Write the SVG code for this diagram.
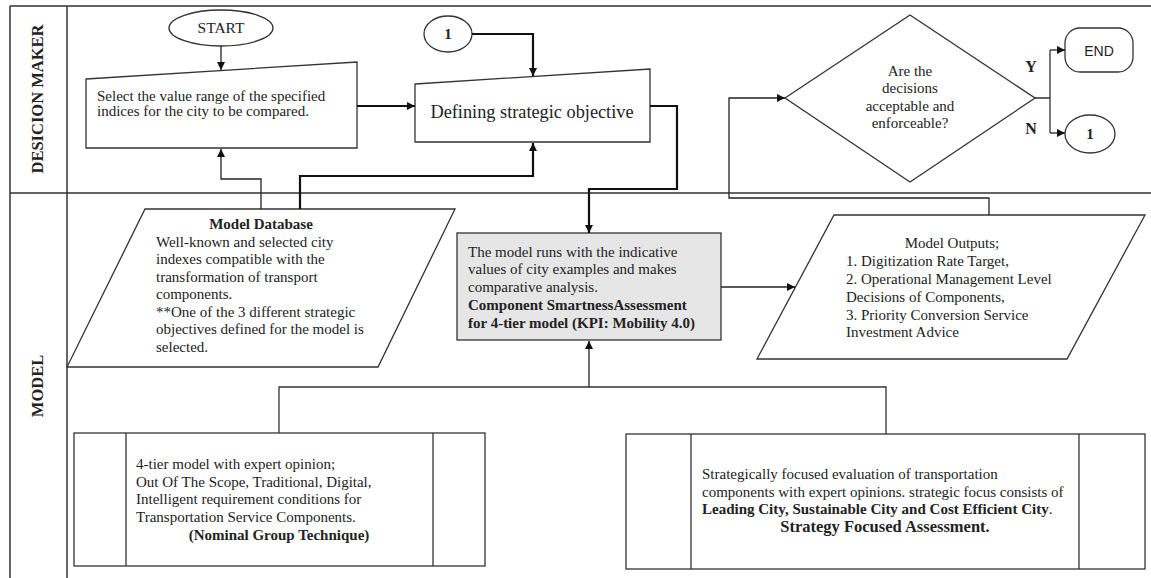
<svg xmlns="http://www.w3.org/2000/svg" width="1151" height="578" viewBox="0 0 1151 578">
<style>
.t{font-family:"Liberation Serif","Times New Roman",serif;font-size:15px;fill:#222}
.b{font-weight:bold}
.c{text-anchor:middle}
.shape{fill:#fff;stroke:#333;stroke-width:1.3}
.lane{fill:none;stroke:#333;stroke-width:1.5}
.thin{fill:none;stroke:#222;stroke-width:1.3;marker-end:url(#ah)}
.thick{fill:none;stroke:#111;stroke-width:2.2;marker-end:url(#ah)}
.plain{fill:none;stroke:#333;stroke-width:1.3}
</style>
<defs>
<marker id="ah" viewBox="0 0 10 10" refX="10" refY="5" markerWidth="9" markerHeight="8" markerUnits="userSpaceOnUse" orient="auto">
<path d="M0,0 L10,5 L0,10 z" fill="#111"/>
</marker>
</defs>
<rect width="1151" height="578" fill="#fff"/>
<g id="lanes">
<path class="lane" d="M10,6 H1151 M10,193 H1151 M10,6 V578 M67,6 V578"/>
<text class="t b c" style="font-size:16.5px" transform="translate(43,99) rotate(-90)">DESICION MAKER</text>
<text class="t b c" style="font-size:16.5px" transform="translate(43,386) rotate(-90)">MODEL</text>
</g>
<g id="start">
<ellipse class="shape" cx="221" cy="28" rx="52" ry="18"/>
<text class="t c" style="font-size:15.5px" x="221" y="33">START</text>
</g>
<g id="select">
<path class="shape" d="M86,79 L357,62 L357,148 L86,148 Z"/>
<text class="t" x="97" y="101">Select the value range of the specified</text>
<text class="t" x="97" y="116">indices for the city to be compared.</text>
</g>
<g id="conn1top">
<ellipse class="shape" cx="448" cy="34" rx="24" ry="18"/>
<text class="t b c" x="448" y="39">1</text>
</g>
<g id="defining">
<path class="shape" d="M415,84 L650,69 L650,142 L415,142 Z"/>
<text class="t c" style="font-size:18.3px" x="532" y="118">Defining strategic objective</text>
</g>
<g id="decision">
<path class="shape" d="M785,98 L910,15 L1035,98 L910,182 Z"/>
<text class="t c" x="910" y="76">Are the</text>
<text class="t c" x="910" y="93">decisions</text>
<text class="t c" x="910" y="111">acceptable and</text>
<text class="t c" x="910" y="128">enforceable?</text>
<text class="t b c" style="font-size:16px" x="1031" y="72">Y</text>
<text class="t b c" style="font-size:16px" x="1031" y="134">N</text>
</g>
<g id="end">
<rect class="shape" x="1065" y="28" width="68" height="44" rx="15"/>
<text x="1099" y="56" style="font-family:'Liberation Sans',Arial,sans-serif;font-size:14px;fill:#222" text-anchor="middle">END</text>
</g>
<g id="conn1bottom">
<ellipse class="shape" cx="1090" cy="134" rx="25" ry="19"/>
<text class="t b c" x="1090" y="139">1</text>
</g>
<g id="database">
<path class="shape" d="M145,209 L455,209 L378,367 L67,367 Z"/>
<text class="t b c" x="261" y="229">Model Database</text>
<text class="t" x="156" y="247">Well-known and selected city</text>
<text class="t" x="156" y="264">indexes compatible with the</text>
<text class="t" x="156" y="282">transformation of transport</text>
<text class="t" x="156" y="299">components.</text>
<text class="t" x="156" y="317">**One of the 3 different strategic</text>
<text class="t" x="156" y="334">objectives defined for the model is</text>
<text class="t" x="156" y="352">selected.</text>
</g>
<g id="modelrun">
<rect x="457" y="233" width="264" height="107" fill="#e6e6e6" stroke="#333" stroke-width="1.3"/>
<text class="t" x="468" y="257">The model runs with the indicative</text>
<text class="t" x="468" y="274">values of city examples and makes</text>
<text class="t" x="468" y="292">comparative analysis.</text>
<text class="t b" x="468" y="310">Component SmartnessAssessment</text>
<text class="t b" x="468" y="328">for 4-tier model (KPI: Mobility 4.0)</text>
</g>
<g id="outputs">
<path class="shape" d="M834,215 L1145,215 L1067,359 L757,359 Z"/>
<text class="t c" x="952" y="248">Model Outputs;</text>
<text class="t" x="846" y="266">1. Digitization Rate Target,</text>
<text class="t" x="846" y="284">2. Operational Management Level</text>
<text class="t" x="846" y="302">Decisions of Components,</text>
<text class="t" x="846" y="320">3. Priority Conversion Service</text>
<text class="t" x="846" y="337">Investment Advice</text>
</g>
<g id="tier">
<rect class="shape" x="74" y="433" width="411" height="133"/>
<path class="plain" d="M126,433 V566 M433,433 V566"/>
<text class="t" x="136" y="469">4-tier model with expert opinion;</text>
<text class="t" x="136" y="487">Out Of The Scope, Traditional, Digital,</text>
<text class="t" x="136" y="504">Intelligent requirement conditions for</text>
<text class="t" x="136" y="522">Transportation Service Components.</text>
<text class="t b c" x="279" y="540">(Nominal Group Technique)</text>
</g>
<g id="strategy">
<rect class="shape" x="626" y="434" width="519" height="135"/>
<path class="plain" d="M691,434 V569 M1079,434 V569"/>
<text class="t" x="702" y="479">Strategically focused evaluation of transportation</text>
<text class="t" x="702" y="497">components with expert opinions. strategic focus consists of</text>
<text class="t" x="702" y="514"><tspan class="b">Leading City, Sustainable City and Cost Efficient City</tspan>.</text>
<text class="t b c" style="font-size:16.5px" x="885" y="532">Strategy Focused Assessment.</text>
</g>
<g id="connectors">
<path class="thin" d="M221,46 V70"/>
<path class="thick" d="M357,106 H415"/>
<path class="thick" d="M472,34 H533 V76"/>
<path class="thick" d="M650,106 H677 V189 H589 V233"/>
<path class="thin" d="M261,209 V179 H221 V149"/>
<path class="thick" d="M300,209 V176 H533 V143"/>
<path class="thin" d="M721,287 H795"/>
<path class="thin" d="M989,215 V198 H729 V98 H785"/>
<path class="plain" d="M1035,98 H1050 M1050,50 V133"/>
<path class="thin" d="M1050,50 H1065"/>
<path class="thin" d="M1050,133 H1065"/>
<path class="plain" d="M279,433 V387 H886 V434"/>
<path class="thin" d="M589,387 V341"/>
</g>
</svg>
